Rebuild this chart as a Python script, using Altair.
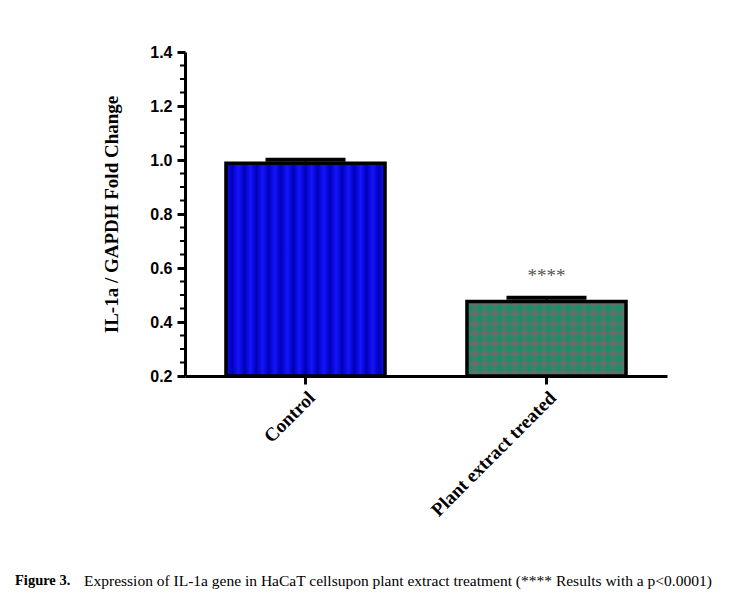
import altair as alt
import pandas as pd

# ---- data ----
categories = ["Control", "Plant extract treated"]
means = [0.988, 0.476]
errors = [0.013, 0.014]
significance = ["", "****"]
major_ticks = [0.2, 0.4, 0.6, 0.8, 1.0, 1.2, 1.4]
minor_ticks = [0.25, 0.3, 0.35, 0.45, 0.5, 0.55, 0.65, 0.7, 0.75,
               0.85, 0.9, 0.95, 1.05, 1.1, 1.15, 1.25, 1.3, 1.35]
y_title = "IL-1a / GAPDH Fold Change"
caption_bold = ["Figure 3."]
caption_text = ["Expression of IL-1a gene in HaCaT cellsupon plant extract treatment (**** Results with a p<0.0001)"]
axis_min = 0.2

df = pd.DataFrame({
    "category": categories,
    "mean": means,
    "upper": [m + e for m, e in zip(means, errors)],
    "sig": significance,
})

# ---- styles ----
W, H = 482, 324
SERIF = "Liberation Serif"
SANS = "Liberation Sans"

yscale = alt.Scale(domain=[0.2, 1.4], nice=False, zero=False)
xscale = alt.Scale(paddingInner=0.34, paddingOuter=0.17)

y_axis = alt.Axis(values=major_ticks, format=".1f", grid=False,
                  domainColor="black", domainWidth=3, tickColor="black",
                  tickWidth=3, tickSize=8, labelFont=SANS, labelFontWeight="bold",
                  labelFontSize=16, labelColor="black", labelPadding=5,
                  titleFont=SERIF, titleFontSize=19, titleFontWeight="bold",
                  titleColor="black", titlePadding=28)
x_axis = alt.Axis(title=None, labelAngle=-45, domainColor="black", domainWidth=3,
                  tickColor="black", tickWidth=3, tickSize=8, labelFont=SERIF,
                  labelFontWeight="bold", labelFontSize=19, labelColor="black",
                  labelPadding=4)


def Y(field):
    return alt.Y(field, type="quantitative", scale=yscale, axis=y_axis, title=y_title)


X = alt.X("category:N", scale=xscale, axis=x_axis, sort=categories)


def stops_soft(c1, c2, periods):
    s = []
    for k in range(periods):
        s.append(alt.GradientStop(offset=k / periods, color=c1))
        s.append(alt.GradientStop(offset=(k + 0.5) / periods, color=c2))
    s.append(alt.GradientStop(offset=1, color=c1))
    return s


def stops_hard(c1, c2, n):
    s = []
    for k in range(n):
        c = c1 if k % 2 == 0 else c2
        s.append(alt.GradientStop(offset=k / n, color=c))
        s.append(alt.GradientStop(offset=(k + 1) / n, color=c))
    return s


blue_fill = alt.LinearGradient(gradient="linear", x1=0, x2=1, y1=0, y2=0,
                               stops=stops_soft("#1414ff", "#0000b8", 13))
check_x = alt.LinearGradient(gradient="linear", x1=0, x2=1, y1=0, y2=0,
                             stops=stops_hard("#1f8c66", "#6b6b6b", 32))
check_y = alt.LinearGradient(gradient="linear", x1=0, x2=0, y1=0, y2=1,
                             stops=stops_hard("rgba(107,107,107,0.55)",
                                              "rgba(31,140,102,0.55)", 15))

base = alt.Chart(df)

bar_control = base.transform_filter(alt.datum.category == categories[0]).mark_bar(
    fill=blue_fill, strokeWidth=0).encode(x=X, y=Y("mean"), y2=alt.datum(axis_min))
bar_plant_a = base.transform_filter(alt.datum.category == categories[1]).mark_bar(
    fill=check_x, strokeWidth=0).encode(x=X, y=Y("mean"), y2=alt.datum(axis_min))
bar_plant_b = base.transform_filter(alt.datum.category == categories[1]).mark_bar(
    fill=check_y, strokeWidth=0).encode(x=X, y=Y("mean"), y2=alt.datum(axis_min))

stem = base.mark_rule(color="black", strokeWidth=2).encode(x=X, y=Y("mean"), y2="upper:Q")
cap = base.mark_tick(color="black", opacity=1, thickness=4, size=80).encode(x=X, y=Y("upper"))
border = base.mark_bar(fillOpacity=0, stroke="black", strokeWidth=3.5).encode(
    x=X, y=Y("mean"), y2=alt.datum(axis_min))

sig = base.mark_text(font=SERIF, fontSize=19, color="#555555", dy=-22,
                     baseline="middle").encode(x=X, y=Y("upper"), text="sig:N")

minor = alt.Chart(pd.DataFrame({"v": minor_ticks})).mark_rule(
    color="black", strokeWidth=2).encode(y=Y("v"), x=alt.value(-5), x2=alt.value(0))

cap_b = alt.Chart(pd.DataFrame({"t": caption_bold})).mark_text(
    font=SERIF, fontSize=14.5, fontWeight="bold", align="left", baseline="middle",
    color="black").encode(text="t:N", x=alt.value(-170), y=alt.value(529))
cap_t = alt.Chart(pd.DataFrame({"t": caption_text})).mark_text(
    font=SERIF, fontSize=15.5, align="left", baseline="middle",
    color="black").encode(text="t:N", x=alt.value(-101), y=alt.value(529))

chart = alt.layer(bar_control, bar_plant_a, bar_plant_b, stem, cap, border, sig,
                  minor, cap_b, cap_t).properties(
    width=W, height=H,
    autosize=alt.AutoSizeParams(type="none"),
    padding={"left": 177, "top": 44, "right": 54, "bottom": 221},
    background="white",
).configure_view(stroke=None)

chart.save("out.html", embed_options={"renderer": "svg", "actions": False})
